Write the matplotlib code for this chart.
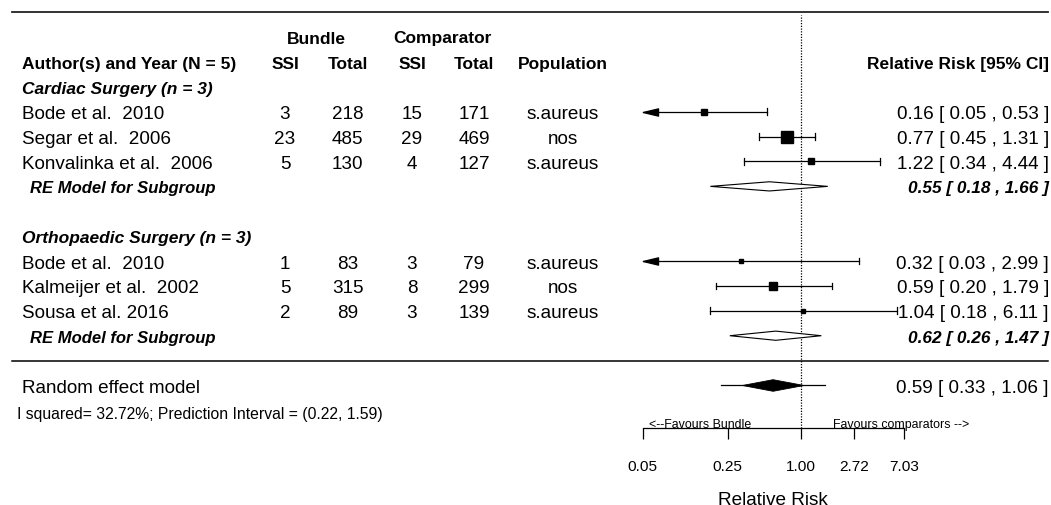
import numpy as np
import matplotlib
matplotlib.use("Agg")
import matplotlib.pyplot as plt
from matplotlib import font_manager as fm
from matplotlib import transforms
from matplotlib.path import Path
from matplotlib.markers import MarkerStyle

# ---------------- data ----------------
studies = ["Bode et al.  2010", "Segar et al.  2006", "Konvalinka et al.  2006",
           "Bode et al.  2010", "Kalmeijer et al.  2002", "Sousa et al. 2016"]
study_group = [0, 0, 0, 1, 1, 1]
bundle_ssi = [3, 23, 5, 1, 5, 2]
bundle_total = [218, 485, 130, 83, 315, 89]
comp_ssi = [15, 29, 4, 3, 8, 3]
comp_total = [171, 469, 127, 79, 299, 139]
population = ["s.aureus", "nos", "s.aureus", "s.aureus", "nos", "s.aureus"]
rr = [0.16, 0.77, 1.22, 0.32, 0.59, 1.04]
ci_low = [0.05, 0.45, 0.34, 0.03, 0.20, 0.18]
ci_high = [0.53, 1.31, 4.44, 2.99, 1.79, 6.11]

group_names = ["Cardiac Surgery (n = 3)", "Orthopaedic Surgery (n = 3)"]
group_rr = [0.55, 0.62]
group_low = [0.18, 0.26]
group_high = [1.66, 1.47]

overall_rr = 0.59
overall_low = 0.33
overall_high = 1.06
pi_low = 0.22
pi_high = 1.59
i_squared = 32.72

axis_ticks = [0.05, 0.25, 1.00, 2.72, 7.03]
tick_labels = ["0.05", "0.25", "1.00", "2.72", "7.03"]

# ---------------- style / layout ----------------
FIG_W, FIG_H = 1051, 506
ROW0_PX, ROW_STEP = 361.6, 24.89          # pixel of row 0, pixel per row
AX_L_PX, AX_R_PX, AX_B_PX = 642.7, 904.0, 429.3
study_rows = [10, 9, 8, 4, 3, 2]
group_header_rows = [11, 5]
group_re_rows = [7, 1]
square_px = [6.0, 12.7, 5.5, 4.3, 7.3, 4.0]


def has_font(name):
    try:
        fm.findfont(fm.FontProperties(family=name), fallback_to_default=False)
        return True
    except Exception:
        return False


BASE = "Liberation Sans" if has_font("Liberation Sans") else "DejaVu Sans"
plt.rcParams["font.family"] = [BASE, "DejaVu Sans"]

fig = plt.figure(figsize=(FIG_W / 100, FIG_H / 100), dpi=100)
ax = fig.add_axes([AX_L_PX / FIG_W, (FIG_H - AX_B_PX) / FIG_H,
                   (AX_R_PX - AX_L_PX) / FIG_W, AX_B_PX / FIG_H])
ax.set_xscale("log")
ax.set_xlim(axis_ticks[0], axis_ticks[-1])
ax.set_ylim((ROW0_PX - AX_B_PX) / ROW_STEP, ROW0_PX / ROW_STEP)
for s in ["top", "left", "right"]:
    ax.spines[s].set_visible(False)
ax.spines["bottom"].set_linewidth(0.9)
ax.set_yticks([])
ax.set_xticks(axis_ticks)
ax.set_xticklabels(tick_labels)
ax.xaxis.set_minor_locator(matplotlib.ticker.NullLocator())
ax.tick_params(axis="x", direction="out", length=8.2, width=0.9, pad=14.0,
               labelsize=11.1)
ax.set_xlabel("Relative Risk", fontsize=13.7)
ax.xaxis.set_label_coords(0.5, (AX_B_PX - 505.5) / AX_B_PX)
ax.xaxis.label.set_va("baseline")

tr = transforms.blended_transform_factory(fig.transFigure, ax.transData)


def fx(px):
    return px / FIG_W


def prow(ypx):
    return (ROW0_PX - ypx) / ROW_STEP


def txt(xpx, row, s, ha="left", **kw):
    ax.text(fx(xpx), row, s, transform=tr, ha=ha, va="center_baseline",
            clip_on=False, **kw)


# ---------------- headers ----------------
HB = dict(fontsize=12.5, fontweight="bold")
txt(316, 13, "Bundle", ha="center", **HB)
txt(442, 13.05, "Comparator", ha="center", **HB)
txt(22.5, 12, "Author(s) and Year (N = 5)", **HB)
txt(285, 12, "SSI", ha="center", **HB)
txt(347.5, 12, "Total", ha="center", **HB)
txt(412, 12, "SSI", ha="center", **HB)
txt(474, 12, "Total", ha="center", **HB)
txt(563, 12, "Population", ha="center", **HB)
txt(1049, 12, "Relative Risk [95% CI]", ha="right", **HB)

# separators
ax.plot([fx(12), fx(1048)], [14, 14], transform=tr, color="#222222", lw=1.3,
        clip_on=False)
ax.plot([fx(12), fx(1048)], [0, 0], transform=tr, color="black", lw=1.1,
        clip_on=False)

# reference line at 1
ax.plot([1, 1], [ax.get_ylim()[0], 14 - 0.1], color="black", lw=0.9,
        linestyle=(0, (1, 1.2)), clip_on=False)

# arrow marker (tip at the anchor point, pointing left)
arrow_marker = MarkerStyle(Path([(0, 0), (1, 0.24), (1, -0.24), (0, 0)],
                                [Path.MOVETO, Path.LINETO, Path.LINETO,
                                 Path.CLOSEPOLY]))
CAP = 3.4 / ROW_STEP
alim = axis_ticks[0]

# ---------------- studies ----------------
RG = dict(fontsize=13.6)
for i, name in enumerate(studies):
    r = study_rows[i]
    txt(22.5, r, name, **RG)
    txt(285, r, str(bundle_ssi[i]), ha="center", **RG)
    txt(347.5, r, str(bundle_total[i]), ha="center", **RG)
    txt(412, r, str(comp_ssi[i]), ha="center", **RG)
    txt(474, r, str(comp_total[i]), ha="center", **RG)
    txt(563, r, population[i], ha="center", **RG)
    txt(1049, r, f"{rr[i]:.2f} [ {ci_low[i]:.2f} , {ci_high[i]:.2f} ]",
        ha="right", **RG)

    lo = max(ci_low[i], alim)
    ax.plot([lo, ci_high[i]], [r, r], color="black", lw=0.9, clip_on=False)
    ax.plot([ci_high[i]] * 2, [r - CAP, r + CAP], color="black", lw=0.9,
            clip_on=False)
    if ci_low[i] <= alim:
        ax.plot([alim], [r], marker=arrow_marker, ms=21.6, color="black",
                linestyle="none", clip_on=False)
    else:
        ax.plot([ci_low[i]] * 2, [r - CAP, r + CAP], color="black", lw=0.9,
                clip_on=False)
    ax.plot([rr[i]], [r], marker="s", ms=square_px[i] * 0.72, color="black",
            linestyle="none", clip_on=False)

# ---------------- subgroups ----------------
DH = 4.6 / ROW_STEP
for g, gname in enumerate(group_names):
    txt(22.5, group_header_rows[g], gname, fontsize=12.5, fontweight="bold",
        fontstyle="italic")
    r = group_re_rows[g]
    txt(29.5, r, "RE Model for Subgroup", fontsize=12.0, fontweight="bold",
        fontstyle="italic")
    txt(1049, r, f"{group_rr[g]:.2f} [ {group_low[g]:.2f} , {group_high[g]:.2f} ]",
        ha="right", fontsize=12.4, fontweight="bold", fontstyle="italic")
    ax.fill([group_low[g], group_rr[g], group_high[g], group_rr[g]],
            [r, r + DH, r, r - DH], facecolor="white", edgecolor="black",
            lw=0.8, clip_on=False, zorder=3)

# ---------------- overall ----------------
r = -1
txt(22.5, r, "Random effect model", **RG)
txt(1049, r, f"{overall_rr:.2f} [ {overall_low:.2f} , {overall_high:.2f} ]",
    ha="right", **RG)
ax.plot([pi_low, pi_high], [r, r], color="black", lw=0.9, clip_on=False)
OH = 5.8 / ROW_STEP
ax.fill([overall_low, overall_rr, overall_high, overall_rr],
        [r, r + OH, r, r - OH], facecolor="black", edgecolor="black", lw=0.6,
        clip_on=False, zorder=3)

txt(17, prow(413.3),
    f"I squared= {i_squared:.2f}%; Prediction Interval = ({pi_low:.2f}, {pi_high:.2f})",
    fontsize=11.3)

txt(649.3, prow(423.3), "<--Favours Bundle", fontsize=8.9)
txt(833.3, prow(423.3), "Favours comparators -->", fontsize=8.9)

fig.savefig("out.png", dpi=100, facecolor="white")
